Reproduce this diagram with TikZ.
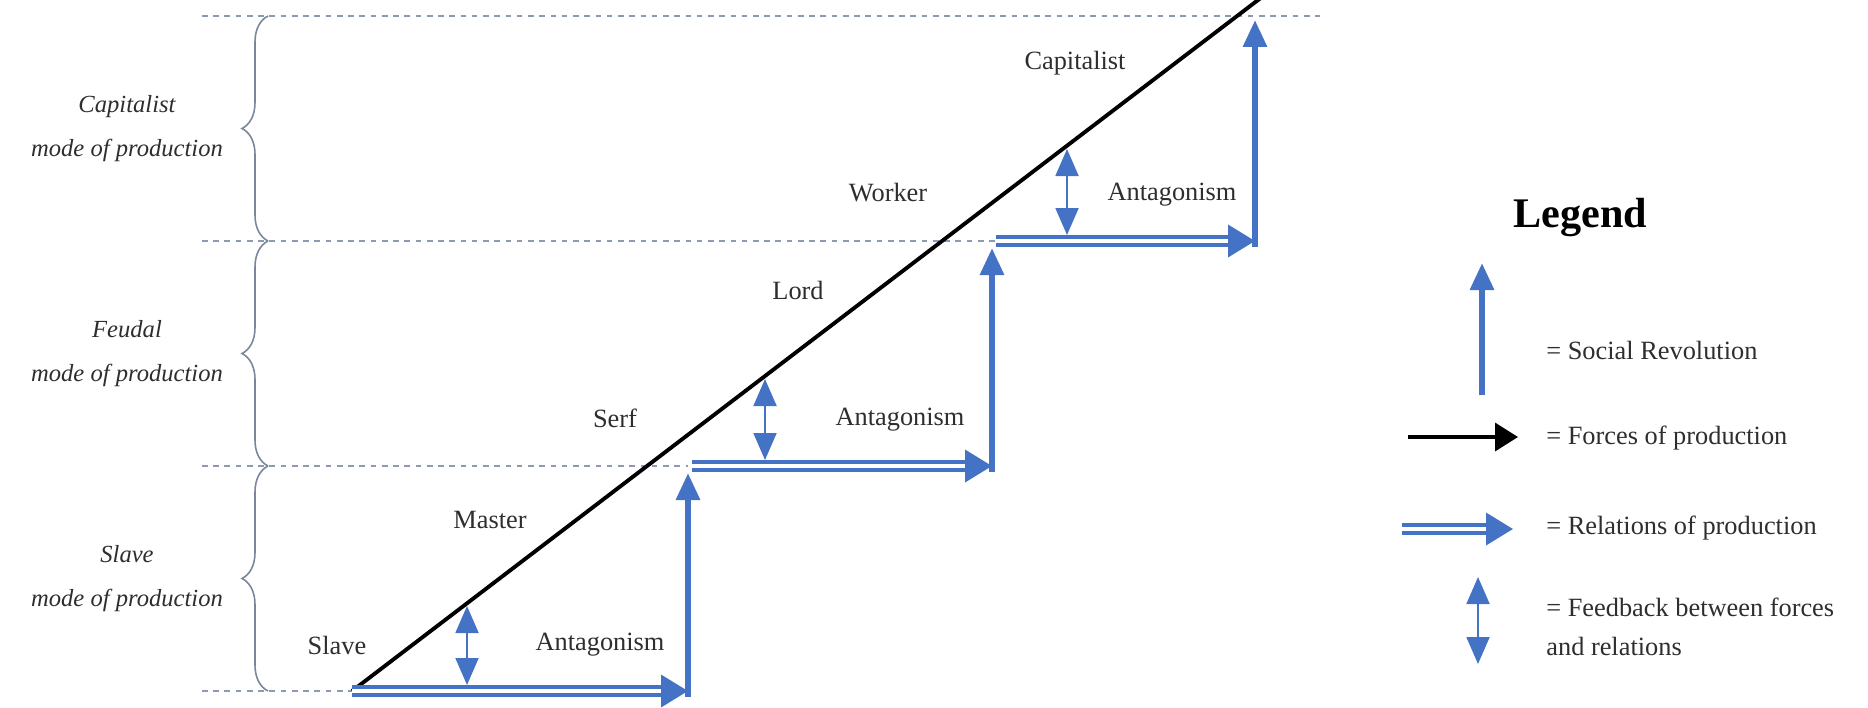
\documentclass[tikz,border=0pt]{standalone}
\usepackage{fontspec}
\setmainfont{Liberation Serif}
\usetikzlibrary{arrows.meta,decorations.pathreplacing,positioning}
\definecolor{revblue}{HTML}{4472C4}
\definecolor{levelgray}{HTML}{8C9BB0}
\definecolor{bracegray}{HTML}{7A8699}
\definecolor{textgray}{HTML}{2E2E2E}
\tikzset{
  level/.style={draw=levelgray, line width=1.2pt, dash pattern=on 3.2pt off 3.2pt},
  modebrace/.style={draw=bracegray, line width=0.9pt, decorate, decoration={brace, amplitude=0.52cm}},
  forces/.style={draw=black, line width=2.2pt, -{Triangle[length=0.46cm,width=0.56cm]}},
  revolution/.style={draw=revblue, line width=3.4pt, -{Triangle[length=0.54cm,width=0.46cm]}},
  relation/.style={draw=revblue, double=white, line width=2.2pt, double distance=2.8pt, -{Triangle[length=0.54cm,width=0.64cm]}},
  feedback/.style={draw=revblue, line width=1.1pt, {Triangle[length=0.54cm,width=0.46cm]}-{Triangle[length=0.54cm,width=0.46cm]}},
  lbl/.style={font=\fontsize{15}{18}\selectfont, text=textgray},
  mode/.style={font=\fontsize{14}{25}\selectfont\itshape, align=center, text=textgray},
  legtext/.style={font=\fontsize{15}{22}\selectfont, text=textgray, anchor=west, inner sep=0pt, align=left}
}
\begin{document}
\begin{tikzpicture}[x=0.02cm,y=-0.02cm]
\useasboundingbox (0,0) rectangle (1868,707);

% Drawing levels
\coordinate (lv0) at (202,691);
\coordinate (lv1) at (202,466);
\coordinate (lv2) at (202,241);
\coordinate (lv3) at (202,16);
\draw [level] (lv0) -- (352,691);
\draw [level] (lv1) -- (688,466);
\draw [level] (lv2) -- (996,241);
\draw [level] (lv3) -- (1320,16);

% Drawing braces
\draw [modebrace] (268,691) -- (268,466);
\draw [modebrace] (268,466) -- (268,241);
\draw [modebrace] (268,241) -- (268,16);

% Marking modes of production
\node [mode] (slavemode) at (127,579) {Slave\\mode of production};
\node [mode] (feudalmode) at (127,354) {Feudal\\mode of production};
\node [mode] (capmode) at (127,129) {Capitalist\\mode of production};

% Drawing forces of production
\coordinate (slave0) at (352,691);
\coordinate (fend) at (1300,-32);
\draw [forces] (slave0) -- (fend);

% Drawing relations of production
\coordinate (slave1) at (688,691);
\coordinate (feud0) at (692,466);
\coordinate (feud1) at (992,466);
\coordinate (cap0) at (996,241);
\coordinate (cap1) at (1255,241);
\draw [relation] (slave0) -- (slave1);
\draw [relation] (feud0) -- (feud1);
\draw [relation] (cap0) -- (cap1);

% Drawing social revolutions
\draw [revolution] (688,697) -- (688,473);
\draw [revolution] (992,472) -- (992,248);
\draw [revolution] (1255,247) -- (1255,20);

% Drawing feedback
\draw [feedback] (467,685) -- (467,606);
\draw [feedback] (765,460) -- (765,379);
\draw [feedback] (1067,235) -- (1067,149);

% Marking classes
\node [lbl] (slave) at (337,645) {Slave};
\node [lbl] (master) at (490,520) {Master};
\node [lbl] (serf) at (615,418) {Serf};
\node [lbl] (lord) at (798,290) {Lord};
\node [lbl] (worker) at (888,193) {Worker};
\node [lbl] (capitalist) at (1075,63) {Capitalist};

% Marking antagonisms
\node [lbl] (ant1) at (600,645) {Antagonism};
\node [lbl] (ant2) at (900,420) {Antagonism};
\node [lbl] (ant3) at (1172,195) {Antagonism};

% Drawing legend
\node [anchor=west, inner sep=0pt, text=black, font=\fontsize{24}{28}\selectfont\bfseries] (legend) at (1513,218) {Legend};
\draw [revolution] (1482,395) -- (1482,263);
\node [legtext] (legrev) at (1546,350) {= Social Revolution};
\draw [forces, line width=2pt] (1408,437) -- (1518,437);
\node [legtext] (legforces) at (1546,438) {= Forces of production};
\draw [relation] (1402,529) -- (1513,529);
\node [legtext] (legrel) at (1546,528) {= Relations of production};
\draw [feedback] (1478,664) -- (1478,577);
\node [legtext, anchor=north west] (legfb) at (1546,598) {= Feedback between forces\\and relations};
\end{tikzpicture}
\end{document}
